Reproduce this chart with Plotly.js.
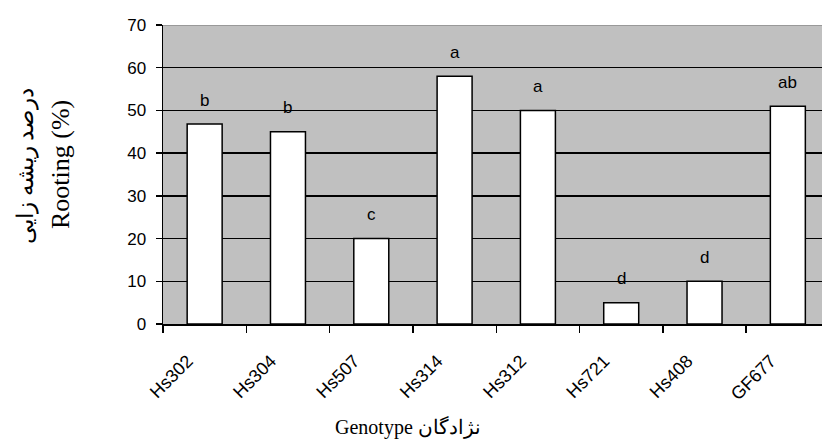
<!DOCTYPE html>
<html>
<head>
<meta charset="utf-8">
<script src="https://cdn.plot.ly/plotly-3.0.1.min.js"></script>
<style>
html, body { margin: 0; padding: 0; background: #ffffff; }
#chart { width: 822px; height: 440px; }
</style>
</head>
<body>
<div id="chart"></div>
<script>
const genotypes = ['Hs302', 'Hs304', 'Hs507', 'Hs314', 'Hs312', 'Hs721', 'Hs408', 'GF677'];
const rooting = [46.8, 45, 20, 58, 50, 5, 10, 51];
const letters = ['b', 'b', 'c', 'a', 'a', 'd', 'd', 'ab'];
const yTicks = [0, 10, 20, 30, 40, 50, 60, 70];

const sans = 'Liberation Sans, Arial, sans-serif';
const serif = 'Liberation Serif, Times New Roman, DejaVu Serif, serif';

const bars = {
  type: 'bar',
  x: genotypes,
  y: rooting,
  width: 0.42,
  marker: { color: '#ffffff', line: { color: '#000000', width: 1.5 } },
  hoverinfo: 'x+y'
};

const letterAnnotations = genotypes.map((g, i) => ({
  x: g, y: rooting[i], xref: 'x', yref: 'y',
  text: letters[i], showarrow: false,
  xanchor: 'center', yanchor: 'middle', yshift: 24,
  font: { family: sans, size: 17, color: '#000000' }
}));

const layout = {
  width: 822, height: 440,
  margin: { l: 163, r: 0, t: 25, b: 116 },
  paper_bgcolor: '#ffffff',
  plot_bgcolor: '#c0c0c0',
  showlegend: false,
  bargap: 0.58,
  xaxis: {
    type: 'category',
    range: [-0.5, 7.41],
    tickson: 'boundaries',
    ticks: 'outside', ticklen: 7, tickwidth: 1.5, tickcolor: '#000000',
    showline: true, linecolor: '#000000', linewidth: 1.5,
    showgrid: false, zeroline: false,
    tickangle: -45,
    ticklabelshift: -17,
    ticklabelstandoff: 18,
    tickfont: { family: sans, size: 18, color: '#000000' }
  },
  yaxis: {
    range: [0, 70],
    tickvals: yTicks,
    ticktext: yTicks.map(String),
    ticks: 'outside', ticklen: 6, tickwidth: 1.5, tickcolor: '#000000',
    showline: true, linecolor: '#000000', linewidth: 1.5,
    showgrid: true, gridcolor: '#000000', gridwidth: 1.5,
    zeroline: false,
    ticklabelstandoff: 6,
    tickfont: { family: sans, size: 17, color: '#000000' }
  },
  shapes: [{
    type: 'line', xref: 'paper', yref: 'y', x0: 0, x1: 1, y0: 70, y1: 70,
    line: { color: '#8c8c8c', width: 1.5 }
  }],
  annotations: letterAnnotations.concat([
    {
      xref: 'paper', yref: 'paper', x: (408 - 163) / 659, y: -0.345,
      xanchor: 'center', yanchor: 'middle', showarrow: false,
      text: 'Genotype نژادگان',
      font: { family: serif, size: 20, color: '#000000' }
    },
    {
      xref: 'paper', yref: 'paper', x: (26 - 163) / 659, y: (324 - 166) / 299,
      xanchor: 'center', yanchor: 'middle', showarrow: false,
      textangle: -90,
      text: 'درصد ریشه زایی',
      font: { family: serif, size: 23, color: '#000000' }
    },
    {
      xref: 'paper', yref: 'paper', x: (60 - 163) / 659, y: (324 - 165) / 299,
      xanchor: 'center', yanchor: 'middle', showarrow: false,
      textangle: -90,
      text: 'Rooting (%)',
      font: { family: serif, size: 26, color: '#000000' }
    }
  ])
};

Plotly.newPlot('chart', [bars], layout, { displayModeBar: false, staticPlot: true });
</script>
</body>
</html>
